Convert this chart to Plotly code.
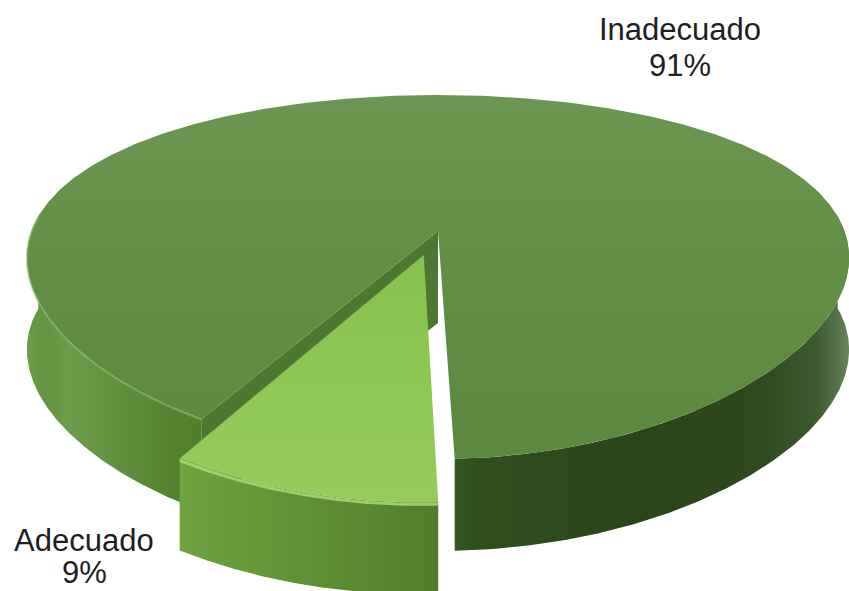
import numpy as np
import plotly.graph_objects as go

# ---- data -------------------------------------------------------------
labels = ["Inadecuado", "Adecuado"]
values = [91, 9]

# ---- look -------------------------------------------------------------
W, H = 849, 591
CX, CY = 438, 231        # screen position of the pie centre
AX, BY = 406.5, 170.4    # horizontal / vertical radius scale
KX, KY = 0.15, 0.2527    # perspective foreshortening (horizontal / vertical)
DEPTH = 92               # disc thickness (px)
START = 88               # angle (deg, 90 = front) where the small slice begins
EXPLODE = 0.14           # pull-out of the small slice (radius units)

total = sum(values)
sweep_small = 360.0 * values[1] / total
a_small0, a_small1 = START, START + sweep_small
a_main0, a_main1 = a_small1, START + 360.0


def proj(X, Y, drop=0.0):
    X, Y = np.asarray(X, float), np.asarray(Y, float)
    return CX + AX * X / (1 - KX * Y), CY + BY * Y / (1 - KY * Y) + drop


def rim(a0, a1, off=(0.0, 0.0), drop=0.0, n=200):
    t = np.radians(np.linspace(a0, a1, n))
    return proj(off[0] + np.cos(t), off[1] + np.sin(t), drop)


def side_poly(a0, a1, off=(0.0, 0.0)):
    xt, yt = rim(a0, a1, off)
    xb, yb = rim(a0, a1, off, DEPTH)
    return np.concatenate([xt, xb[::-1], xt[:1]]), np.concatenate([yt, yb[::-1], yt[:1]])


fig = go.Figure()


def poly(x, y, color=None, grad=None):
    kw = dict(x=x, y=y, mode="lines", fill="toself", hoverinfo="skip",
              showlegend=False, line=dict(width=0, color="rgba(0,0,0,0)"))
    if grad is not None:
        kw["fillgradient"] = grad
    else:
        kw["fillcolor"] = color
    fig.add_trace(go.Scatter(**kw))


# ---- large slice -----------------------------------------------------
main_side_grad = dict(
    type="horizontal", start=20, stop=849,
    colorscale=[[0.00, "#6fa04c"], [0.03, "#62953f"], [0.06, "#6c9d4a"],
                [0.18, "#53832f"], [0.35, "#466f29"], [0.50, "#3a6021"],
                [0.55, "#2f4f1c"], [0.75, "#2a4518"], [0.90, "#2e4a1d"],
                [0.96, "#3d5a2f"], [0.99, "#5b774f"], [1.00, "#6a8560"]])

for a0, a1 in [(a_main0, 185), (355, a_main1)]:
    x, y = side_poly(a0, a1)
    poly(x, y, grad=main_side_grad)

# cut face of the large slice that looks into the gap
tc = np.radians(a_main0)
fx_t, fy_t = proj([0, np.cos(tc)], [0, np.sin(tc)])
fx_b, fy_b = proj([0, np.cos(tc)], [0, np.sin(tc)], DEPTH)
poly(np.r_[fx_t, fx_b[::-1], fx_t[:1]], np.r_[fy_t, fy_b[::-1], fy_t[:1]], color="#4d7834")

# top face
xr, yr = rim(a_main0, a_main1, n=500)
cx0, cy0 = proj(0, 0)
poly(np.r_[cx0, xr, cx0], np.r_[cy0, yr, cy0],
     grad=dict(type="vertical", start=95, stop=470,
               colorscale=[[0, "#6c9752"], [0.45, "#618f44"], [1, "#5a893d"]]))

# soft bevel on the front-left rim
xl, yl = rim(a_main0, 185)
fig.add_trace(go.Scatter(x=xl, y=yl + 1, mode="lines", hoverinfo="skip", showlegend=False,
                         line=dict(color="rgba(140,190,100,0.55)", width=2)))

# ---- small slice (pulled out) ---------------------------------------
bis = np.radians((a_small0 + a_small1) / 2)
off = (EXPLODE * np.cos(bis), EXPLODE * np.sin(bis))

x, y = side_poly(a_small0, a_small1, off)
poly(x, y, grad=dict(type="horizontal", start=165, stop=445,
                     colorscale=[[0, "#79ac49"], [0.08, "#6ca23e"],
                                 [0.5, "#5f9135"], [1, "#4f7c2c"]]))

xs, ys = rim(a_small0, a_small1, off)
ox, oy = proj(off[0], off[1])
poly(np.r_[ox, xs, ox], np.r_[oy, ys, oy],
     grad=dict(type="vertical", start=255, stop=505,
               colorscale=[[0, "#86c14f"], [1, "#94cd5c"]]))

fig.add_trace(go.Scatter(x=xs, y=ys + 2, mode="lines", hoverinfo="skip", showlegend=False,
                         line=dict(color="rgba(175,220,125,0.8)", width=3)))

# ---- labels ----------------------------------------------------------
font = dict(family="Liberation Sans, Arial, sans-serif", size=31, color="#1e1e1e")
label_pos = [(680, 29, 65), (84, 540, 572)]
for name, v, (lx, ly1, ly2) in zip(labels, values, label_pos):
    pct = f"{round(100 * v / total)}%"
    for txt, ly in [(name, ly1), (pct, ly2)]:
        fig.add_annotation(x=lx, y=ly, xref="x", yref="y", text=txt, showarrow=False,
                           xanchor="center", yanchor="middle", font=font)

fig.update_layout(
    width=W, height=H, margin=dict(l=0, r=0, t=0, b=0),
    paper_bgcolor="white", plot_bgcolor="white",
    xaxis=dict(range=[0, W], visible=False, fixedrange=True),
    yaxis=dict(range=[H, 0], visible=False, fixedrange=True),
)

fig.write_html("out.html")
